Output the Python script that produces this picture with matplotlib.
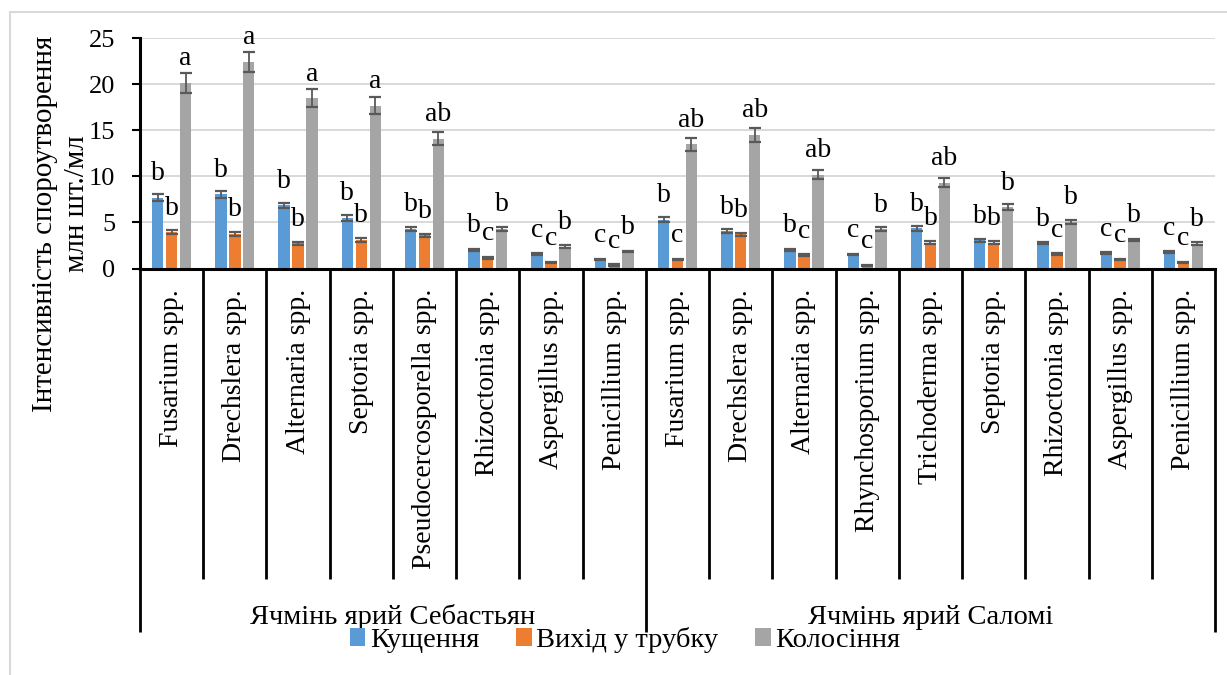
import matplotlib
matplotlib.use("Agg")
import matplotlib.pyplot as plt
import numpy as np
from matplotlib.lines import Line2D
from matplotlib.patches import Patch

plt.rcParams["font.family"] = ["Liberation Serif", "DejaVu Serif"]

# --- data -------------------------------------------------------------
species = [
    "Fusarium spp.", "Drechslera spp.", "Alternaria spp.", "Septoria spp.",
    "Pseudocercosporella spp.", "Rhizoctonia spp.", "Aspergillus spp.", "Penicillium spp.",
    "Fusarium spp.", "Drechslera spp.", "Alternaria spp.", "Rhynchosporium spp.",
    "Trichoderma spp.", "Septoria spp.", "Rhizoctonia spp.", "Aspergillus spp.",
    "Penicillium spp.",
]
groups = ["Ячмінь ярий Себастьян", "Ячмінь ярий Саломі"]
group_sizes = [8, 9]
series_names = ["Кущення", "Вихід у трубку", "Колосіння"]

tillering = [7.7, 8.05, 6.85, 5.5, 4.3, 2.05, 1.55, 1.0,
             5.3, 4.05, 2.05, 1.5, 4.35, 3.05, 2.75, 1.65, 1.75]
booting = [3.95, 3.75, 2.75, 3.1, 3.6, 1.15, 0.68, 0.38,
           0.98, 3.7, 1.45, 0.35, 2.82, 2.82, 1.55, 0.95, 0.7]
heading = [20.15, 22.45, 18.5, 17.7, 14.1, 4.3, 2.38, 1.85,
           13.5, 14.5, 10.2, 4.28, 9.3, 6.65, 5.05, 3.1, 2.68]

tillering_err = [0.35, 0.35, 0.3, 0.3, 0.25, 0.1, 0.08, 0.08,
                 0.25, 0.2, 0.1, 0.08, 0.25, 0.15, 0.12, 0.1, 0.1]
booting_err = [0.25, 0.25, 0.15, 0.18, 0.2, 0.1, 0.07, 0.06,
               0.08, 0.2, 0.1, 0.05, 0.15, 0.15, 0.08, 0.08, 0.06]
heading_err = [1.05, 1.1, 0.95, 0.9, 0.7, 0.25, 0.12, 0.1,
               0.7, 0.75, 0.5, 0.2, 0.5, 0.35, 0.25, 0.15, 0.15]

tillering_lbl = ["b", "b", "b", "b", "b", "b", "c", "c",
                 "b", "b", "b", "c", "b", "b", "b", "c", "c"]
booting_lbl = ["b", "b", "b", "b", "b", "c", "c", "c",
               "c", "b", "c", "c", "b", "b", "c", "c", "c"]
heading_lbl = ["a", "a", "a", "a", "ab", "b", "b", "b",
               "ab", "ab", "ab", "b", "ab", "b", "b", "b", "b"]

colors = ["#5B9BD5", "#ED7D31", "#A5A5A5"]

# --- figure -----------------------------------------------------------
W, H = 1227, 675
fig = plt.figure(figsize=(W / 100, H / 100), dpi=100)
ax_left, ax_right, ax_top, ax_bottom = 140, 1215, 38.3, 268.5
ax = fig.add_axes([ax_left / W, 1 - ax_bottom / H,
                   (ax_right - ax_left) / W, (ax_bottom - ax_top) / H])


def frac(py):
    """pixel row -> axes fraction (y)."""
    return (ax_bottom - py) / (ax_bottom - ax_top)


x = np.arange(len(species))
offsets = [-0.22, 0.0, 0.22]
width = 0.18
for off, vals, errs, lbls, col in zip(
        offsets, [tillering, booting, heading],
        [tillering_err, booting_err, heading_err],
        [tillering_lbl, booting_lbl, heading_lbl], colors):
    ax.bar(x + off, vals, width, color=col, zorder=2)
    ax.errorbar(x + off, vals, yerr=errs, fmt="none", ecolor="#595959",
                elinewidth=1.3, capsize=4, capthick=1.6, zorder=3)
    for xi, v, t in zip(x + off, vals, lbls):
        ax.annotate(t, xy=(xi, v), xytext=(0, 12.6), textcoords="offset points",
                    ha="center", va="baseline", fontsize=20, zorder=4)

ax.set_xlim(-0.5, len(species) - 0.5)
ax.set_ylim(0, 25)
ax.set_yticks(np.arange(0, 26, 5))
ax.set_xticks([])
ax.tick_params(axis="y", labelsize=19, direction="out", length=6, width=1.5,
               pad=12, colors="black")
ax.grid(axis="y", color="#d9d9d9", linewidth=1.4)
ax.set_axisbelow(True)
for s in ("top", "right"):
    ax.spines[s].set_visible(False)
for s in ("left", "bottom"):
    ax.spines[s].set_linewidth(2.2)
    ax.spines[s].set_color("black")

# category table lines
tr = ax.get_xaxis_transform()
bounds = np.cumsum([0] + group_sizes)
for k in range(len(species) + 1):
    low = frac(631.5) if k in bounds else frac(579)
    ax.plot([k - 0.5, k - 0.5], [0, low], color="black", lw=2,
            transform=tr, clip_on=False, solid_capstyle="butt")

for xi, name in zip(x, species):
    ax.text(xi, frac(289), name, rotation=90, ha="center", va="top",
            fontsize=20, transform=tr)

for g, name in enumerate(groups):
    xc = (bounds[g] + bounds[g + 1] - 1) / 2
    ax.text(xc, frac(624), name, ha="center", va="baseline",
            fontsize=20.5, transform=tr)

# y label (two lines)
fig.text(52 / W, 1 - 224 / H, "Інтенсивність спороутворення", rotation=90,
         rotation_mode="anchor", ha="center", va="baseline", fontsize=21)
fig.text(84 / W, 1 - 204 / H, "млн шт./мл", rotation=90,
         rotation_mode="anchor", ha="center", va="baseline", fontsize=21)

# legend
handles = [Patch(facecolor=c, edgecolor="none") for c in colors]
fig.legend(handles, series_names, loc="center", ncol=3, frameon=False,
           bbox_to_anchor=(625 / W, 1 - 640 / H), fontsize=20.5,
           handlelength=0.55, handleheight=0.55, handletextpad=0.15,
           columnspacing=1.3, borderpad=0, borderaxespad=0)

# chart-area border (left and top visible)
fig.add_artist(Line2D([9.5 / W, 9.5 / W], [0, 1 - 12 / H], color="#d9d9d9", lw=1.5))
fig.add_artist(Line2D([9.5 / W, 1], [1 - 12 / H, 1 - 12 / H], color="#d9d9d9", lw=1.5))

fig.savefig("out.png", dpi=100)
